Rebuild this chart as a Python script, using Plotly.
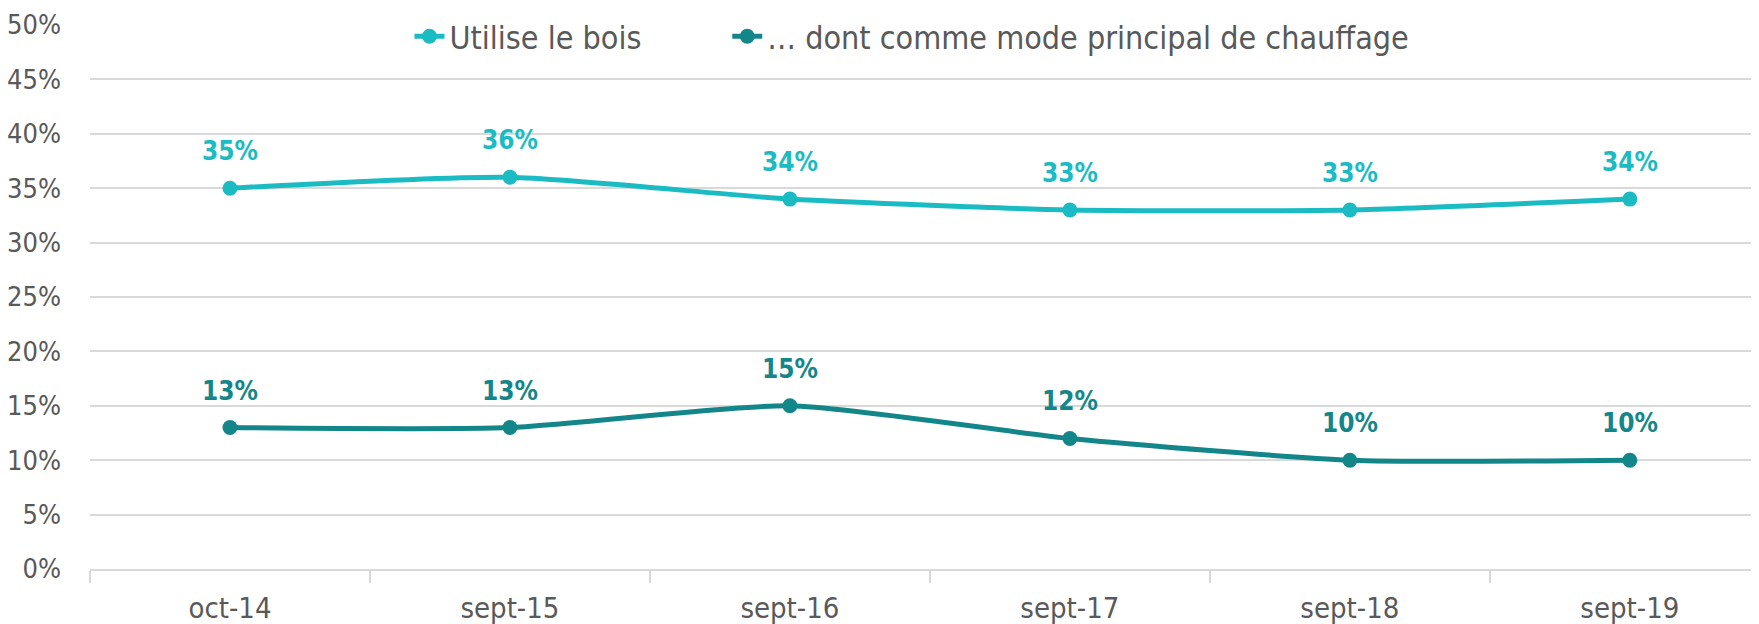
import plotly.graph_objects as go

categories = ["oct-14", "sept-15", "sept-16", "sept-17", "sept-18", "sept-19"]
bois = [35, 36, 34, 33, 33, 34]
principal = [13, 13, 15, 12, 10, 10]
series_names = ["Utilise le bois", "… dont comme mode principal de chauffage"]
y_ticks = list(range(0, 51, 5))

c1 = "#1BBBC4"
c2 = "#13868A"
grey = "#595959"
FONT = "DejaVu Sans Condensed, DejaVu Sans, sans-serif"

fig = go.Figure()
for name, vals, col, lg in [(series_names[0], bois, c1, "legend"),
                            (series_names[1], principal, c2, "legend2")]:
    fig.add_trace(go.Scatter(
        x=categories, y=vals, name=name, mode="lines+markers", legend=lg,
        line=dict(color=col, width=5, shape="spline", smoothing=0.6),
        marker=dict(color=col, size=15),
    ))
    for c, v in zip(categories, vals):
        fig.add_annotation(x=c, y=v, text=f"<b>{v}%</b>", showarrow=False,
                           yshift=37, font=dict(family=FONT, size=26, color=col))

legend_style = dict(orientation="h", xanchor="left", y=0.979, yanchor="middle",
                    font=dict(size=32, color=grey), bgcolor="rgba(0,0,0,0)")

fig.update_layout(
    width=1759, height=624,
    margin=dict(l=82, r=0, t=17, b=63, autoexpand=False),
    paper_bgcolor="white", plot_bgcolor="white",
    font=dict(family=FONT, size=28, color=grey),
    showlegend=True,
    legend=dict(x=0.1905, **legend_style),
    legend2=dict(x=0.3800, **legend_style),
)
fig.update_xaxes(
    type="category", range=[-0.5, 5.49], automargin=False,
    showgrid=False, showline=True, linecolor="#D9D9D9", linewidth=2,
    ticks="outside", tickson="boundaries", ticklen=12, tickcolor="#D9D9D9", tickwidth=2,
    tickfont=dict(size=29, color=grey), ticklabelstandoff=12,
)
fig.update_yaxes(
    range=[0, 50], tickvals=y_ticks, ticktext=[f"{t}%" for t in y_ticks], automargin=False,
    showgrid=True, gridcolor="#D9D9D9", gridwidth=2, zeroline=False, showline=False,
    tickfont=dict(size=27, color=grey), ticklabelstandoff=28,
)
fig.write_html("out.html")
